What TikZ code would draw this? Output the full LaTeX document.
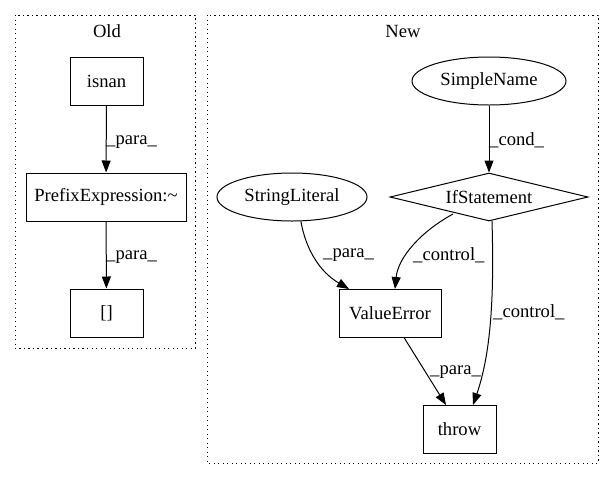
\documentclass[tikz,border=0pt]{standalone}
\usepackage{fontspec}
\setmainfont{Liberation Serif}
\usetikzlibrary{shapes.geometric,arrows.meta}
\begin{document}
\begin{tikzpicture}[x=1pt,y=-1pt,
  txt/.style={font=\fontsize{18.6}{22}\selectfont},
  box/.style={txt,draw,rectangle,minimum height=48pt,inner sep=0pt,line width=1pt},
  ell/.style={txt,draw,ellipse,minimum height=48pt,inner sep=0pt,line width=1pt},
  dia/.style={txt,draw,diamond,aspect=4.1,minimum height=48pt,minimum width=198pt,inner sep=0pt,line width=1pt},
  edge/.style={-{Triangle[length=12pt,width=9pt]},line width=1pt},
  lab/.style={txt,anchor=west,inner sep=0pt},
  cluster/.style={draw,line width=1pt,dash pattern=on 1.2pt off 3.3pt}]
\useasboundingbox (0,0) rectangle (615,480);
% clusters
\draw[cluster] (15,15) rectangle (195,348);
\node[txt] (oldlab) at (107,31) {Old};
\draw[cluster] (207,15) rectangle (598,463);
\node[txt] (newlab) at (403,31) {New};
% Old nodes
\node[box,minimum width=73pt] (isnan) at (106.5,81) {isnan};
\node[box,minimum width=160pt] (prefix) at (106,197) {PrefixExpression:\char"7E};
\node[box,minimum width=73pt] (br) at (106.5,313) {[]};
% New nodes
\node[ell,minimum width=154pt] (sn) at (489,81) {SimpleName};
\node[dia] (if) at (489,197) {IfStatement};
\node[ell,minimum width=150pt] (sl) at (292,197) {StringLiteral};
\node[box,minimum width=102pt] (ve) at (390,313) {ValueError};
\node[box,minimum width=73pt] (th) at (459.5,429) {throw};
\coordinate (vein1) at (349,289);
\coordinate (vein2) at (395,289);
\coordinate (thin1) at (446,405);
\coordinate (thin2) at (473,405);
\coordinate (ifout1) at (453,214);
\coordinate (ifout2) at (492,221);
% Old edges
\draw[edge] (isnan) -- (prefix);
\node[lab] (l1) at (106,142) {\_para\_};
\draw[edge] (prefix) -- (br);
\node[lab] (l2) at (106,257) {\_para\_};
% New edges
\draw[edge] (sn) -- (if);
\node[lab] (l3) at (489,140) {\_cond\_};
\draw[edge] (sl.290) .. controls (306,250) and (320,272) .. (vein1);
\node[lab] (l4) at (323,255) {\_para\_};
\draw[edge] (ifout1) .. controls (420,232) and (398,258) .. (vein2);
\node[lab] (l5) at (413,255) {\_control\_};
\draw[edge] (ifout2) .. controls (494,290) and (492,350) .. (thin2);
\node[lab] (l6) at (493,312) {\_control\_};
\draw[edge] (ve.south -| 404,337) -- (thin1);
\node[lab] (l7) at (430,372) {\_para\_};
\end{tikzpicture}
\end{document}
